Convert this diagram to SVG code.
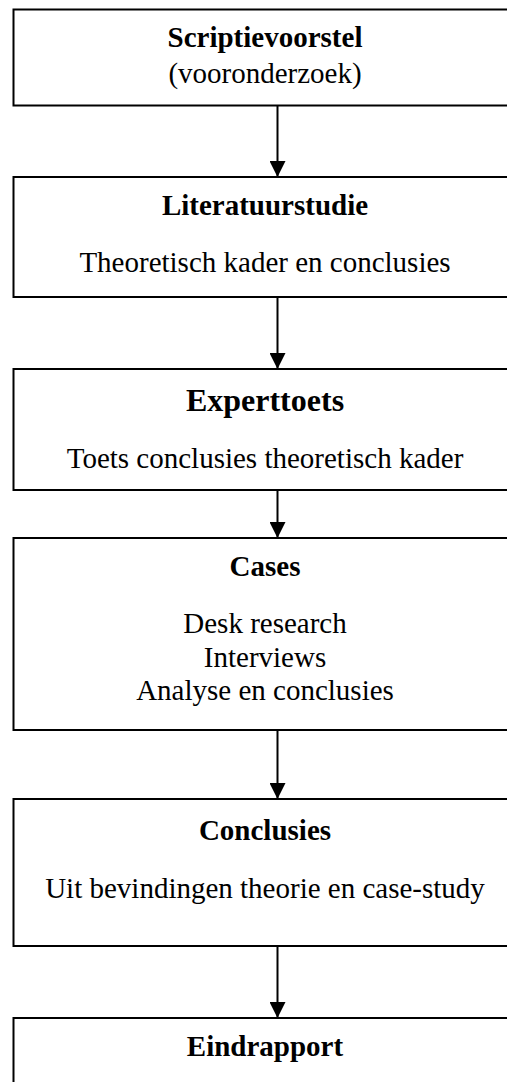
<svg xmlns="http://www.w3.org/2000/svg" width="507" height="1082" viewBox="0 0 507 1082">
<style>
.box{fill:#fff;stroke:#000;stroke-width:2}
.t{font-family:"Liberation Serif","Times New Roman",serif;font-size:29px;text-anchor:middle;fill:#000}
.b{font-weight:bold}
.conn line{stroke:#000;stroke-width:2}
</style>
<defs>
<marker id="ah" markerUnits="userSpaceOnUse" markerWidth="16" markerHeight="16" refX="16" refY="8" orient="auto">
<path d="M0,0 L16,8 L0,16 Z" fill="#000"/>
</marker>
</defs>
<rect width="507" height="1082" fill="#fff"/>
<g id="n1">
<rect class="box" x="13.5" y="9.5" width="504" height="96"/>
<text class="t b" x="265" y="47">Scriptievoorstel</text>
<text class="t" x="265" y="83">(vooronderzoek)</text>
</g>
<g id="n2">
<rect class="box" x="13.5" y="177" width="504" height="120"/>
<text class="t b" x="265" y="215">Literatuurstudie</text>
<text class="t" x="265" y="272">Theoretisch kader en conclusies</text>
</g>
<g id="n3">
<rect class="box" x="13.5" y="369" width="504" height="121"/>
<text class="t b" x="265" y="411" style="font-size:32px">Experttoets</text>
<text class="t" x="265" y="468">Toets conclusies theoretisch kader</text>
</g>
<g id="n4">
<rect class="box" x="13.5" y="538" width="504" height="192"/>
<text class="t b" x="265" y="576">Cases</text>
<text class="t" x="265" y="633">Desk research</text>
<text class="t" x="265" y="667">Interviews</text>
<text class="t" x="265" y="700">Analyse en conclusies</text>
</g>
<g id="n5">
<rect class="box" x="13.5" y="799" width="504" height="147"/>
<text class="t b" x="265" y="840">Conclusies</text>
<text class="t" x="265" y="898">Uit bevindingen theorie en case-study</text>
</g>
<g id="n6">
<rect class="box" x="13.5" y="1018" width="504" height="80"/>
<text class="t b" x="265" y="1056">Eindrapport</text>
</g>
<g class="conn" id="connectors">
<line x1="277.5" y1="106" x2="277.5" y2="177" marker-end="url(#ah)"/>
<line x1="277.5" y1="298" x2="277.5" y2="369" marker-end="url(#ah)"/>
<line x1="277.5" y1="491" x2="277.5" y2="538" marker-end="url(#ah)"/>
<line x1="277.5" y1="731" x2="277.5" y2="799" marker-end="url(#ah)"/>
<line x1="277.5" y1="947" x2="277.5" y2="1018" marker-end="url(#ah)"/>
</g>
</svg>
